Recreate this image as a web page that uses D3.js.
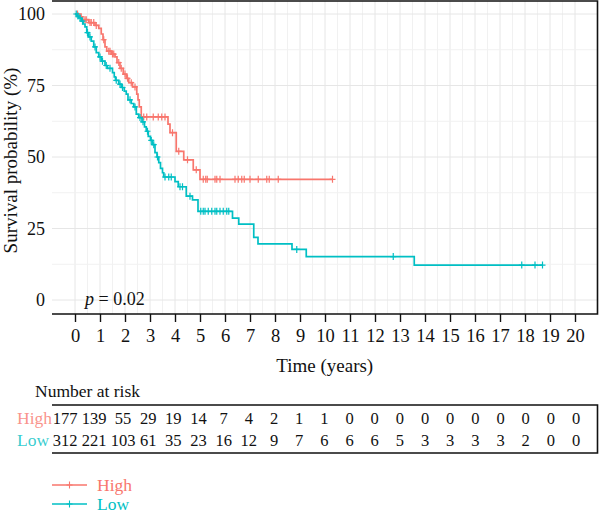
<!DOCTYPE html>
<html>
<head>
<meta charset="utf-8">
<script src="https://cdn.jsdelivr.net/npm/d3@7"></script>
<style>
  body { margin: 0; background: #fff; }
  text { font-family: "Liberation Serif", "Times New Roman", serif; fill: #111; }
</style>
</head>
<body>
<svg id="km"></svg>
<script>
// data
const groups = ['High', 'Low'];
const colors = ['#F8766D', '#00BFC4'];

// step changes: time (years) and survival (%) from that time on
const highTimes = [0, 0.2, 0.3, 0.55, 0.8, 0.95, 1.05, 1.12, 1.2, 1.27, 1.45, 1.6, 1.68, 1.8, 1.93, 2.05, 2.15, 2.3, 2.47, 2.52, 2.57, 2.65, 3.72, 3.8, 4.05, 4.35, 4.73, 5.0];
const highSurv = [100, 99, 98, 97, 96, 95, 93, 91, 88.5, 87, 86, 85, 83, 81, 79, 77.5, 76, 74.5, 72, 70, 67.5, 64, 61.5, 58.5, 52, 49, 45.5, 42.2];
const highEnd = 10.3;
const highCensor = [0.1, 0.25, 0.4, 0.45, 0.6, 0.65, 0.75, 0.85, 1.15, 1.35, 1.4, 1.5, 1.55, 1.75, 1.85, 2.0, 2.1, 2.25, 2.4, 2.75, 2.87, 3.13, 3.33, 3.47, 3.6, 3.9, 4.15, 4.5, 4.85, 5.13, 5.23, 5.29, 5.6, 5.67, 5.8, 6.4, 6.53, 6.67, 6.77, 7.0, 7.33, 7.67, 7.77, 8.13, 10.3];

const lowTimes = [0, 0.08, 0.15, 0.25, 0.33, 0.4, 0.47, 0.55, 0.65, 0.75, 0.85, 0.95, 1.05, 1.2, 1.3, 1.5, 1.57, 1.62, 1.75, 1.85, 1.97, 2.05, 2.12, 2.25, 2.35, 2.45, 2.55, 2.68, 2.78, 2.85, 2.93, 3.02, 3.1, 3.2, 3.28, 3.35, 3.42, 3.5, 3.55, 4.0, 4.13, 4.45, 4.7, 4.92, 6.3, 6.55, 7.15, 7.32, 8.68, 9.25, 13.57];
const lowSurv = [100, 99.3, 98.6, 97.5, 96.5, 95.5, 93.5, 92, 90.5, 88.5, 86.5, 85, 83.5, 82, 81, 79.5, 78, 76.8, 75.5, 74.3, 73, 72, 70, 68.7, 67.5, 65, 63.8, 62.3, 60.5, 59, 57.2, 55.8, 54.3, 51.5, 50, 48, 46, 44.5, 43, 41.4, 39.6, 36.3, 35, 31, 28.6, 26.5, 21.9, 19.6, 17.7, 15.2, 12.2];
const lowEnd = 18.7;
const lowCensor = [0.05, 0.12, 0.2, 0.3, 0.5, 0.6, 0.8, 1.0, 1.1, 1.25, 1.4, 1.65, 1.8, 1.9, 2.2, 2.4, 2.6, 2.72, 2.9, 3.05, 3.15, 3.3, 3.6, 3.75, 3.85, 4.2, 4.3, 4.6, 5.03, 5.13, 5.2, 5.33, 5.47, 5.6, 5.67, 5.8, 5.93, 6.07, 6.15, 8.87, 12.73, 17.87, 18.4, 18.7];

// number at risk table
const riskTimes = d3.range(0, 21);
const highRisk = [177, 139, 55, 29, 19, 14, 7, 4, 2, 1, 1, 0, 0, 0, 0, 0, 0, 0, 0, 0, 0];
const lowRisk = [312, 221, 103, 61, 35, 23, 16, 12, 9, 7, 6, 6, 6, 5, 3, 3, 3, 3, 2, 0, 0];

const xTicks = d3.range(0, 21);
const yTicks = [0, 25, 50, 75, 100];
const pText = '0.02';

// layout
const width = 600;
const height = 516;
const panel = { left: 52, right: 597.5, top: 1, bottom: 314 };

const svg = d3.select('#km')
  .attr('width', width)
  .attr('height', height);

const x = d3.scaleLinear().domain([0, 20]).range([75, 575]);
const y = d3.scaleLinear().domain([0, 100]).range([300, 14]);
// table columns: the first two are spread wider than the rest
const xRisk = d3.scaleLinear().domain([0, 2, 20]).range([65, 123, 576]);

// grid
const grid = svg.append('g');
d3.range(0, 20.01, 0.5).forEach(t => {
  grid.append('line')
    .attr('x1', x(t)).attr('x2', x(t))
    .attr('y1', panel.top).attr('y2', panel.bottom)
    .attr('stroke', Number.isInteger(t) ? '#E6E6E6' : '#F1F1F1')
    .attr('stroke-width', 1);
});
d3.range(0, 100.01, 12.5).forEach(v => {
  grid.append('line')
    .attr('x1', panel.left).attr('x2', panel.right)
    .attr('y1', y(v)).attr('y2', y(v))
    .attr('stroke', v % 25 === 0 ? '#E6E6E6' : '#F1F1F1')
    .attr('stroke-width', 1);
});

// panel border: top, right, bottom
svg.append('path')
  .attr('d', `M${panel.left},${panel.top}H${panel.right}V${panel.bottom}H${panel.left}`)
  .attr('fill', 'none')
  .attr('stroke', '#111')
  .attr('stroke-width', 1.6);

// x axis
const xAxis = d3.axisBottom(x).tickValues(xTicks).tickSize(8).tickPadding(7);
const gx = svg.append('g')
  .attr('transform', `translate(0, ${panel.bottom})`)
  .call(xAxis);
gx.select('.domain').remove();
gx.selectAll('line').attr('stroke', '#111').attr('stroke-width', 1.4);
gx.selectAll('text')
  .style('font-family', '"Liberation Serif", serif')
  .style('font-size', '18.5px')
  .attr('fill', '#111');

// y axis
const yAxis = d3.axisLeft(y).tickValues(yTicks).tickSize(0).tickPadding(7);
const gy = svg.append('g')
  .attr('transform', `translate(${panel.left}, 0)`)
  .call(yAxis);
gy.select('.domain').remove();
gy.selectAll('text')
  .style('font-family', '"Liberation Serif", serif')
  .style('font-size', '18px')
  .attr('fill', '#111');

// axis titles
svg.append('text')
  .attr('x', (panel.left + panel.right) / 2)
  .attr('y', 372)
  .attr('text-anchor', 'middle')
  .style('font-size', '19px')
  .text('Time (years)');

svg.append('text')
  .attr('transform', `translate(17, ${(panel.top + panel.bottom) / 2 + 3}) rotate(-90)`)
  .attr('text-anchor', 'middle')
  .style('font-size', '19px')
  .text('Survival probability (%)');

// p value
const pLabel = svg.append('text')
  .attr('x', 85)
  .attr('y', 305)
  .style('font-size', '18px');
pLabel.append('tspan').style('font-style', 'italic').text('p');
pLabel.append('tspan').text(' = ' + pText);

// curves
const curves = [
  { times: highTimes, surv: highSurv, end: highEnd, censor: highCensor },
  { times: lowTimes, surv: lowSurv, end: lowEnd, censor: lowCensor }
];

const stepLine = d3.line()
  .x(d => x(d[0]))
  .y(d => y(d[1]))
  .curve(d3.curveStepAfter);

const survAt = (c, t) => {
  const i = d3.bisectRight(c.times, t) - 1;
  return c.surv[Math.max(0, i)];
};

const plus = 'M-3,0H3M0,-3.5V3.5';

curves.forEach((c, k) => {
  const pts = c.times.map((t, i) => [t, c.surv[i]]);
  pts.push([c.end, c.surv[c.surv.length - 1]]);

  svg.append('path')
    .datum(pts)
    .attr('d', stepLine)
    .attr('fill', 'none')
    .attr('stroke', colors[k])
    .attr('stroke-width', 1.7);

  svg.append('g')
    .selectAll('path')
    .data(c.censor)
    .enter()
    .append('path')
    .attr('transform', t => `translate(${x(t)}, ${y(survAt(c, t))})`)
    .attr('d', plus)
    .attr('stroke', colors[k])
    .attr('stroke-width', 1.2)
    .attr('fill', 'none');
});

// risk table
svg.append('text')
  .attr('x', 35)
  .attr('y', 397)
  .style('font-size', '17.5px')
  .text('Number at risk');

svg.append('path')
  .attr('d', `M${panel.left},405H${panel.right}V453H${panel.left}`)
  .attr('fill', 'none')
  .attr('stroke', '#111')
  .attr('stroke-width', 1.6);

const risks = [highRisk, lowRisk];
const rowY = [423.5, 445.5];

risks.forEach((row, k) => {
  svg.append('text')
    .attr('x', 17)
    .attr('y', rowY[k])
    .style('fill', colors[k])
    .style('fill-opacity', 0.8)
    .style('font-size', '17.5px')
    .text(groups[k]);

  svg.append('g')
    .selectAll('text')
    .data(row)
    .enter()
    .append('text')
    .attr('x', (d, i) => xRisk(riskTimes[i]))
    .attr('y', rowY[k])
    .attr('text-anchor', 'middle')
    .style('font-size', '16.5px')
    .text(d => d);
});

// legend
const legendY = [485, 504];
groups.forEach((g, k) => {
  const lg = svg.append('g').attr('transform', `translate(0, ${legendY[k]})`);
  lg.append('line')
    .attr('x1', 52).attr('x2', 87)
    .attr('stroke', colors[k])
    .attr('stroke-width', 1.6);
  lg.append('path')
    .attr('transform', 'translate(69.5, 0)')
    .attr('d', plus)
    .attr('stroke', colors[k])
    .attr('stroke-width', 1.1);
  lg.append('text')
    .attr('x', 97)
    .attr('y', 6)
    .style('fill', colors[k])
    .style('font-size', '17.5px')
    .text(g);
});
</script>
</body>
</html>
